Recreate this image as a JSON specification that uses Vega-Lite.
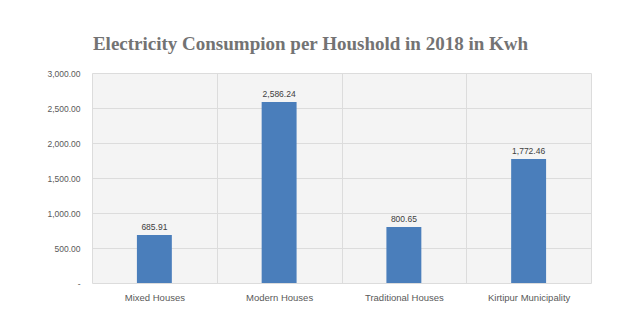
{
  "$schema": "https://vega.github.io/schema/vega-lite/v6.json",
  "width": 499,
  "height": 210,
  "autosize": {"type": "none"},
  "padding": {"left": 92, "top": 73, "right": 28, "bottom": 43},
  "background": "white",
  "title": {
    "text": "Electricity Consumpion per Houshold in 2018 in Kwh",
    "font": "Liberation Serif",
    "fontSize": 19,
    "fontWeight": "bold",
    "color": "#737373",
    "anchor": "middle",
    "frame": "group",
    "dx": -31,
    "offset": 15
  },
  "data": {
    "values": [
      {"category": "Mixed Houses", "kwh": 685.91},
      {"category": "Modern Houses", "kwh": 2586.24},
      {"category": "Traditional Houses", "kwh": 800.65},
      {"category": "Kirtipur Municipality", "kwh": 1772.46}
    ]
  },
  "encoding": {
    "x": {
      "field": "category",
      "type": "nominal",
      "sort": null,
      "scale": {"padding": 0},
      "axis": {
        "title": null,
        "labelAngle": 0,
        "labelFont": "Liberation Sans",
        "labelFontSize": 9.5,
        "labelColor": "#595959",
        "labelPadding": 9,
        "ticks": false,
        "domain": false,
        "grid": true,
        "gridColor": "#dcdcdc",
        "tickBand": "extent"
      }
    },
    "y": {
      "field": "kwh",
      "type": "quantitative",
      "scale": {"domain": [0, 3000]},
      "axis": {
        "title": null,
        "values": [0, 500, 1000, 1500, 2000, 2500, 3000],
        "labelExpr": "datum.value == 0 ? '-' : format(datum.value, ',.2f')",
        "labelFont": "Liberation Sans",
        "labelFontSize": 8.5,
        "labelColor": "#595959",
        "labelPadding": 12,
        "ticks": false,
        "domain": false,
        "grid": true,
        "gridColor": "#dcdcdc"
      }
    }
  },
  "layer": [
    {
      "mark": {"type": "bar", "width": {"band": 0.28}, "color": "#4a7ebb"}
    },
    {
      "mark": {"type": "text", "dy": -8, "font": "Liberation Sans", "fontSize": 8.5, "color": "#404040"},
      "encoding": {
        "text": {"field": "kwh", "type": "quantitative", "format": ",.2f"}
      }
    }
  ],
  "config": {
    "view": {"fill": "#f4f4f4", "stroke": null}
  }
}
